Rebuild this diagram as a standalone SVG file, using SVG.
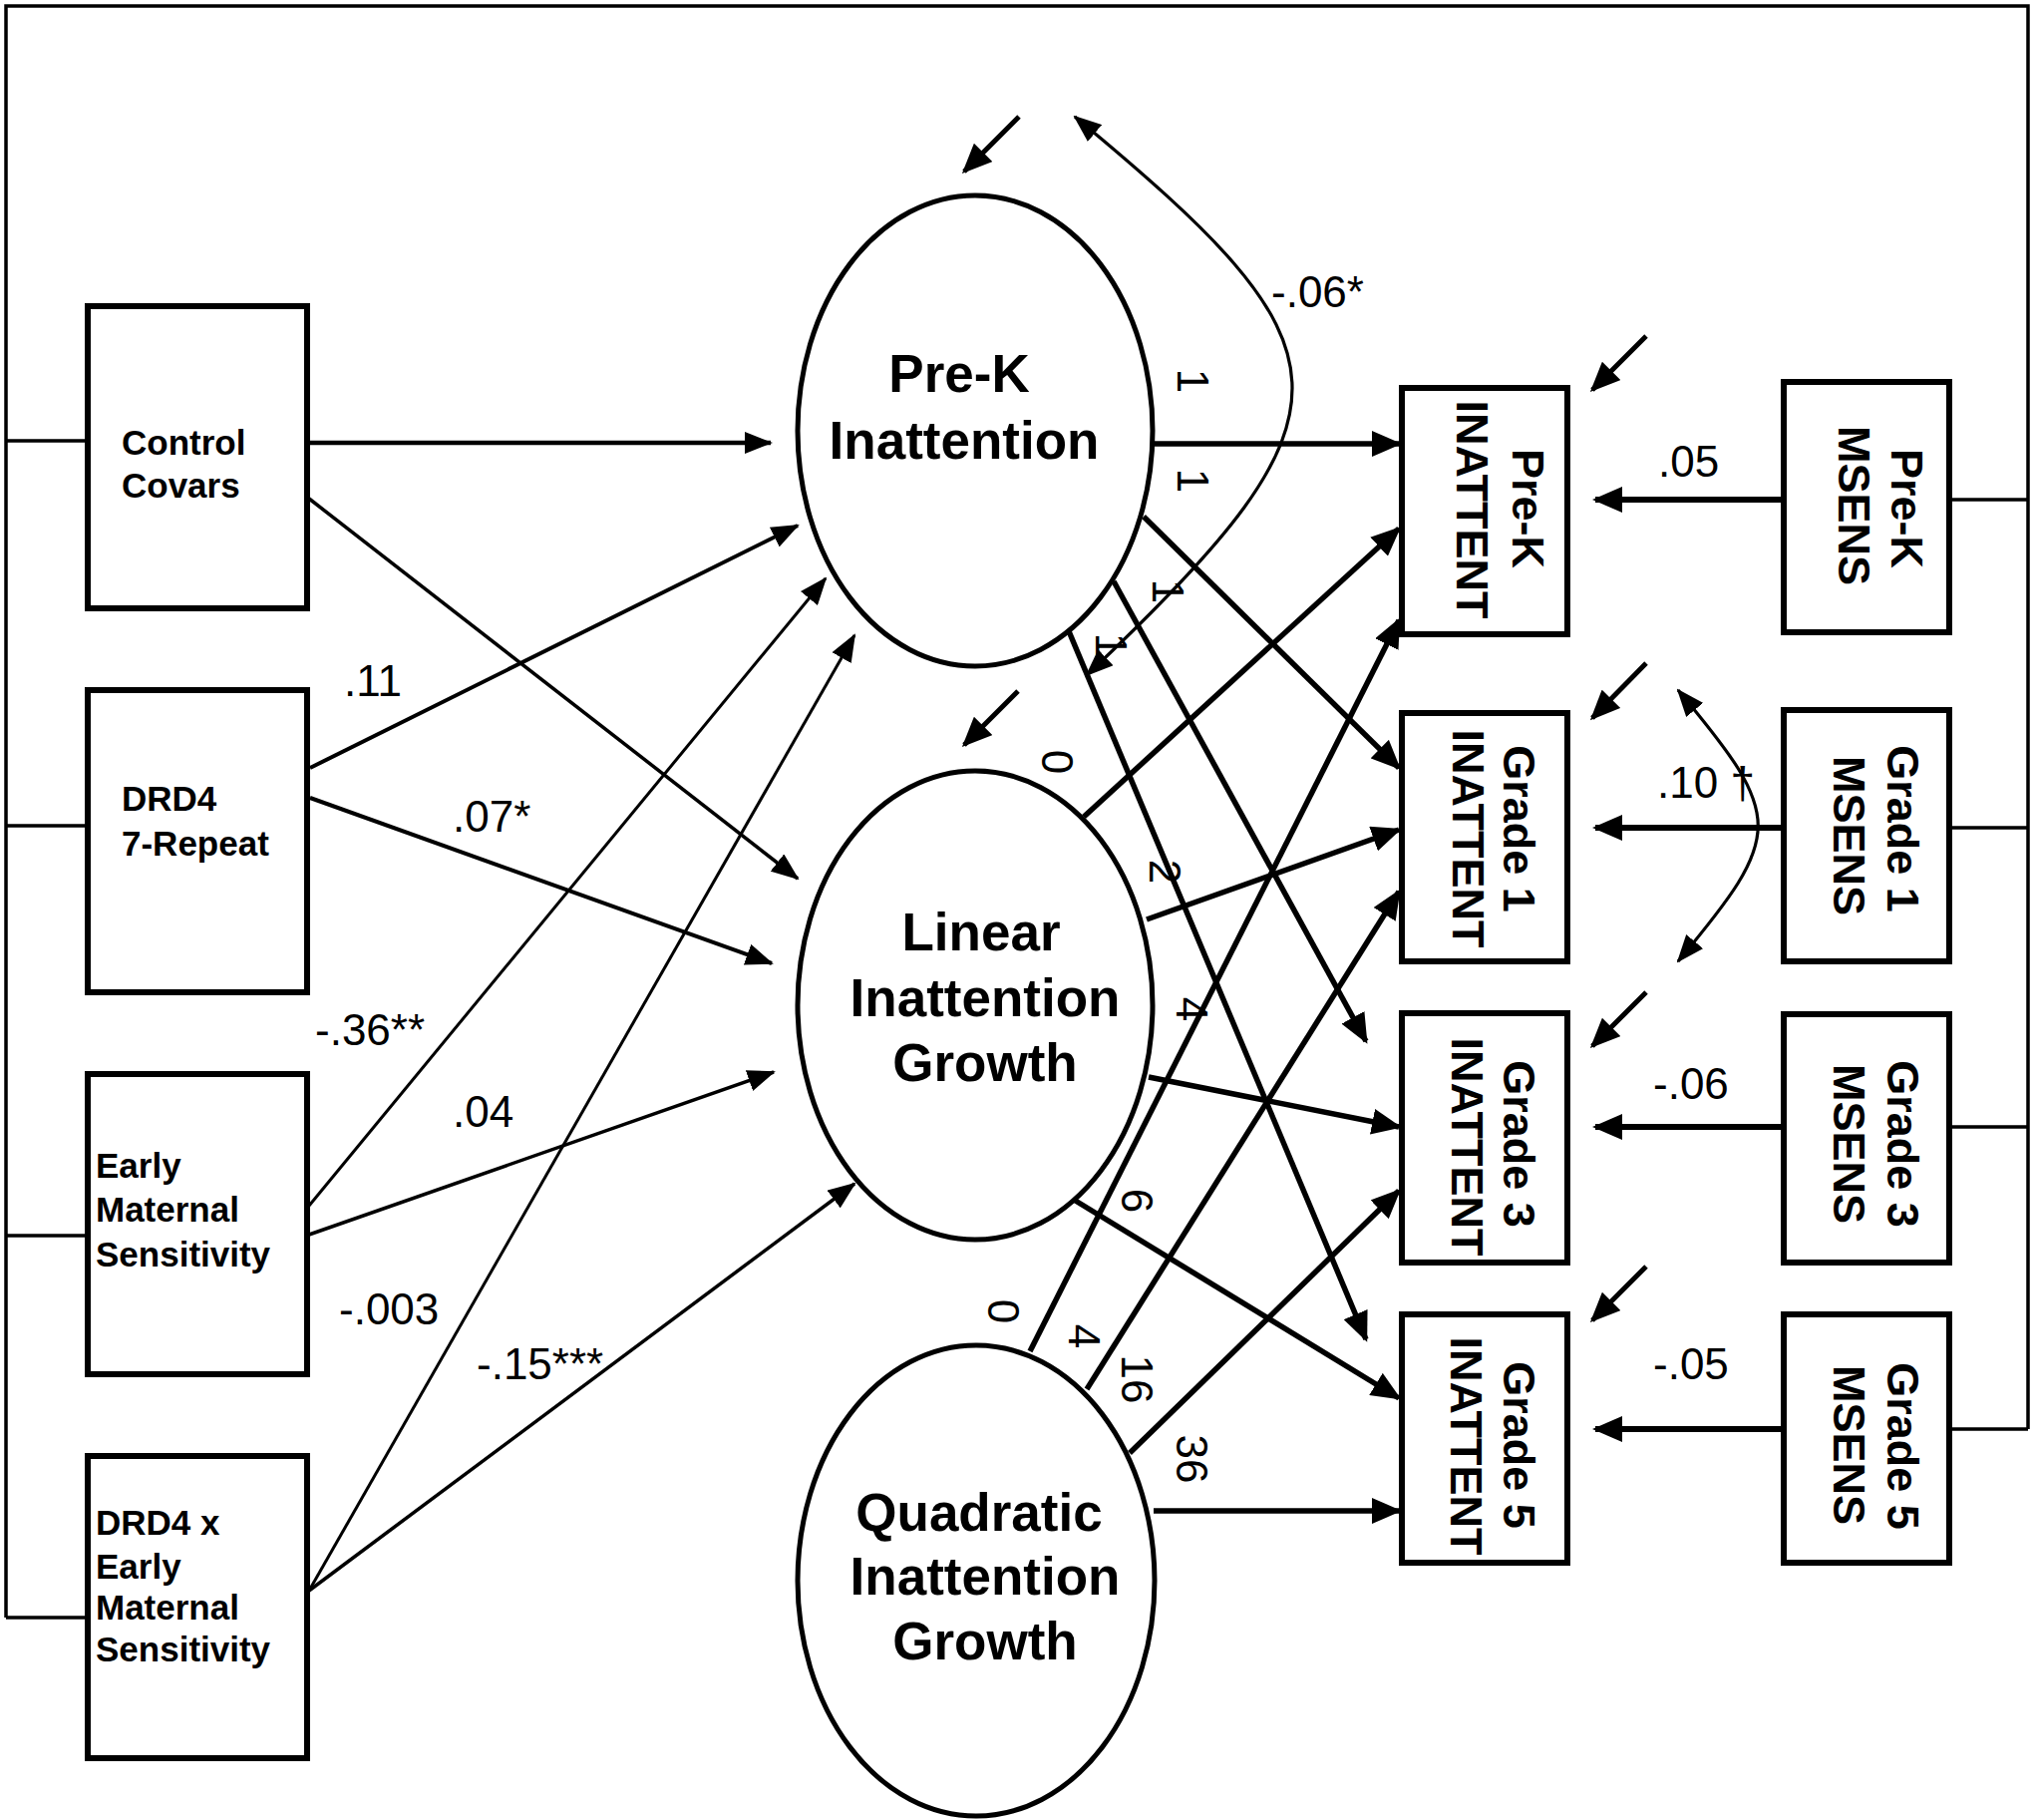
<svg xmlns="http://www.w3.org/2000/svg" width="2040" height="1825" viewBox="0 0 2040 1825">
<style>
  .bg{fill:#fff}
  .box{fill:#fff;stroke:#000;stroke-width:6}
  .ell{fill:#fff;stroke:#000;stroke-width:5}
  .ln{fill:none;stroke:#000;stroke-linecap:butt}
  .thick{stroke-width:5.5}
  .mid{stroke-width:4}
  .thin{stroke-width:3}
  .frame{fill:none;stroke:#000;stroke-width:3.5}
  .curve{fill:none;stroke:#000;stroke-width:3.2}
  text{font-family:"Liberation Sans",Arial,Helvetica,sans-serif;fill:#000}
  .lt{font-size:35px;font-weight:bold}
  .et{font-size:53px;font-weight:bold;text-anchor:middle}
  .bt{font-size:45px;font-weight:bold;text-anchor:middle}
  .lab{font-size:44px}
  .rl{font-size:44px;text-anchor:middle}
</style>
<defs>
  <marker id="ah" markerUnits="userSpaceOnUse" viewBox="0 0 30 26" markerWidth="30" markerHeight="26" refX="27" refY="13" orient="auto-start-reverse">
    <path d="M0,0 L30,13 L0,26 z" fill="#000"/>
  </marker>
  <marker id="ahs" markerUnits="userSpaceOnUse" viewBox="0 0 28 22" markerWidth="28" markerHeight="22" refX="26" refY="11" orient="auto-start-reverse">
    <path d="M0,0 L28,11 L0,22 z" fill="#000"/>
  </marker>
</defs>
<rect class="bg" x="0" y="0" width="2040" height="1825"/>

<g id="connectors">
  <!-- frame and stubs -->
  <path class="frame" d="M6,1622 V6 H2034 V1433"/>
  <path class="frame" d="M6,442 H88 M6,828 H88 M6,1239 H88 M6,1622 H88"/>
  <path class="frame" d="M1955,501 H2034 M1955,830 H2034 M1955,1130 H2034 M1955,1433 H2034"/>

  <!-- predictors to growth factors -->
  <path class="ln" stroke-width="4.5" d="M308,444 L773,444" marker-end="url(#ahs)"/>
  <path class="ln" stroke-width="3.5" d="M310,500 L800,881" marker-end="url(#ahs)"/>
  <path class="ln mid" d="M311,770 L800,527" marker-end="url(#ahs)"/>
  <path class="ln mid" d="M311,800 L774,966" marker-end="url(#ahs)"/>
  <path class="ln thin" d="M310,1209 L828,580" marker-end="url(#ahs)"/>
  <path class="ln" stroke-width="3.5" d="M310,1238 L776,1075" marker-end="url(#ahs)"/>
  <path class="ln thin" d="M310,1595 L857,637" marker-end="url(#ahs)"/>
  <path class="ln" stroke-width="3.5" d="M310,1595 L857,1187" marker-end="url(#ahs)"/>

  <!-- loadings -->
  <path class="ln thick" d="M1157,445 L1403,445" marker-end="url(#ah)"/>
  <path class="ln thick" d="M1147,518 L1403,770" marker-end="url(#ah)"/>
  <path class="ln thick" d="M1117,583 L1370,1044" marker-end="url(#ah)"/>
  <path class="ln thick" d="M1072,633 L1370,1343" marker-end="url(#ah)"/>
  <path class="ln thick" d="M1087,819 L1403,530" marker-end="url(#ah)"/>
  <path class="ln thick" d="M1150,922 L1403,832" marker-end="url(#ah)"/>
  <path class="ln thick" d="M1152,1080 L1403,1130" marker-end="url(#ah)"/>
  <path class="ln thick" d="M1077,1203 L1403,1402" marker-end="url(#ah)"/>
  <path class="ln thick" d="M1033,1355 L1403,622" marker-end="url(#ah)"/>
  <path class="ln thick" d="M1090,1393 L1403,894" marker-end="url(#ah)"/>
  <path class="ln thick" d="M1133,1457 L1403,1194" marker-end="url(#ah)"/>
  <path class="ln thick" d="M1157,1515 L1403,1515" marker-end="url(#ah)"/>

  <!-- MSENS effects -->
  <path class="ln" stroke-width="6" d="M1789,501 L1600,501" marker-end="url(#ah)"/>
  <path class="ln" stroke-width="6" d="M1789,830 L1600,830" marker-end="url(#ah)"/>
  <path class="ln" stroke-width="6" d="M1789,1130 L1600,1130" marker-end="url(#ah)"/>
  <path class="ln" stroke-width="6" d="M1789,1433 L1600,1433" marker-end="url(#ah)"/>

  <!-- residual arrows -->
  <path class="ln" stroke-width="5" d="M1022,117 L967,172" marker-end="url(#ah)"/>
  <path class="ln" stroke-width="5" d="M1021,693 L967,747" marker-end="url(#ah)"/>
  <path class="ln" stroke-width="5" d="M1651,337 L1597,391" marker-end="url(#ah)"/>
  <path class="ln" stroke-width="5" d="M1651,665 L1597,720" marker-end="url(#ah)"/>
  <path class="ln" stroke-width="5" d="M1651,995 L1597,1049" marker-end="url(#ah)"/>
  <path class="ln" stroke-width="5" d="M1651,1270 L1597,1324" marker-end="url(#ah)"/>

  <!-- covariances -->
  <path class="curve" d="M1078,117 C1358,349 1375,409 1090,677" marker-start="url(#ahs)" marker-end="url(#ahs)"/>
  <path class="curve" d="M1683,692 C1790,820 1790,836 1683,964" marker-start="url(#ahs)" marker-end="url(#ahs)"/>
</g>

<g id="labels">
  <text class="lab" x="345" y="698">.11</text>
  <text class="lab" x="454" y="834">.07*</text>
  <text class="lab" x="316" y="1048">-.36**</text>
  <text class="lab" x="454" y="1130">.04</text>
  <text class="lab" x="340" y="1328">-.003</text>
  <text class="lab" x="478" y="1383">-.15***</text>
  <text class="lab" x="1275" y="308">-.06*</text>
  <text class="lab" x="1663" y="478">.05</text>
  <text class="lab" x="1662" y="800">.10 †</text>
  <text class="lab" x="1658" y="1102">-.06</text>
  <text class="lab" x="1658" y="1383">-.05</text>

  <text class="rl" transform="translate(1181,382) rotate(90)">1</text>
  <text class="rl" transform="translate(1181,482) rotate(90)">1</text>
  <text class="rl" transform="translate(1156,593) rotate(90)">1</text>
  <text class="rl" transform="translate(1099,647) rotate(90)">1</text>
  <text class="rl" transform="translate(1045,764) rotate(90)">0</text>
  <text class="rl" transform="translate(1153,874) rotate(90)">2</text>
  <text class="rl" transform="translate(1180,1012) rotate(90)">4</text>
  <text class="rl" transform="translate(1125,1204) rotate(90)">6</text>
  <text class="rl" transform="translate(991,1315) rotate(90)">0</text>
  <text class="rl" transform="translate(1072,1340) rotate(90)">4</text>
  <text class="rl" transform="translate(1125,1383) rotate(90)">16</text>
  <text class="rl" transform="translate(1180,1463) rotate(90)">36</text>
</g>

<g id="node-control">
  <rect class="box" x="88" y="307" width="220" height="303"/>
  <text class="lt" x="122" y="456">Control</text>
  <text class="lt" x="122" y="499">Covars</text>
</g>
<g id="node-drd4">
  <rect class="box" x="88" y="692" width="220" height="303"/>
  <text class="lt" x="122" y="813">DRD4</text>
  <text class="lt" x="122" y="858">7-Repeat</text>
</g>
<g id="node-ems">
  <rect class="box" x="88" y="1077" width="220" height="301"/>
  <text class="lt" x="96" y="1181">Early</text>
  <text class="lt" x="96" y="1225">Maternal</text>
  <text class="lt" x="96" y="1270">Sensitivity</text>
</g>
<g id="node-drd4xems">
  <rect class="box" x="88" y="1460" width="220" height="303"/>
  <text class="lt" x="96" y="1539">DRD4 x</text>
  <text class="lt" x="96" y="1583">Early</text>
  <text class="lt" x="96" y="1624">Maternal</text>
  <text class="lt" x="96" y="1666">Sensitivity</text>
</g>

<g id="node-prek-latent">
  <ellipse class="ell" cx="978" cy="432" rx="178" ry="236"/>
  <text class="et" x="962" y="393">Pre-K</text>
  <text class="et" x="967" y="460">Inattention</text>
</g>
<g id="node-linear-latent">
  <ellipse class="ell" cx="978" cy="1008" rx="178" ry="235"/>
  <text class="et" x="984" y="953">Linear</text>
  <text class="et" x="988" y="1019">Inattention</text>
  <text class="et" x="988" y="1084">Growth</text>
</g>
<g id="node-quadratic-latent">
  <ellipse class="ell" cx="979" cy="1585" rx="179" ry="236"/>
  <text class="et" x="982" y="1535">Quadratic</text>
  <text class="et" x="988" y="1599">Inattention</text>
  <text class="et" x="988" y="1664">Growth</text>
</g>

<g id="node-prek-inattent">
  <rect class="box" x="1406" y="389" width="166" height="247"/>
  <text class="bt" transform="translate(1517,510) rotate(90)">Pre-K</text>
  <text class="bt" transform="translate(1461,511) rotate(90)">INATTENT</text>
</g>
<g id="node-g1-inattent">
  <rect class="box" x="1406" y="715" width="166" height="249"/>
  <text class="bt" transform="translate(1508,831) rotate(90)">Grade 1</text>
  <text class="bt" transform="translate(1457,841) rotate(90)">INATTENT</text>
</g>
<g id="node-g3-inattent">
  <rect class="box" x="1406" y="1016" width="166" height="250"/>
  <text class="bt" transform="translate(1508,1147) rotate(90)">Grade 3</text>
  <text class="bt" transform="translate(1456,1150) rotate(90)">INATTENT</text>
</g>
<g id="node-g5-inattent">
  <rect class="box" x="1406" y="1318" width="166" height="249"/>
  <text class="bt" transform="translate(1508,1449) rotate(90)">Grade 5</text>
  <text class="bt" transform="translate(1455,1450) rotate(90)">INATTENT</text>
</g>

<g id="node-prek-msens">
  <rect class="box" x="1789" y="383" width="166" height="251"/>
  <text class="bt" transform="translate(1897,510) rotate(90)">Pre-K</text>
  <text class="bt" transform="translate(1844,507) rotate(90)">MSENS</text>
</g>
<g id="node-g1-msens">
  <rect class="box" x="1789" y="712" width="166" height="252"/>
  <text class="bt" transform="translate(1893,831) rotate(90)">Grade 1</text>
  <text class="bt" transform="translate(1839,838) rotate(90)">MSENS</text>
</g>
<g id="node-g3-msens">
  <rect class="box" x="1789" y="1017" width="166" height="249"/>
  <text class="bt" transform="translate(1893,1147) rotate(90)">Grade 3</text>
  <text class="bt" transform="translate(1839,1147) rotate(90)">MSENS</text>
</g>
<g id="node-g5-msens">
  <rect class="box" x="1789" y="1318" width="166" height="249"/>
  <text class="bt" transform="translate(1893,1450) rotate(90)">Grade 5</text>
  <text class="bt" transform="translate(1839,1449) rotate(90)">MSENS</text>
</g>
</svg>
